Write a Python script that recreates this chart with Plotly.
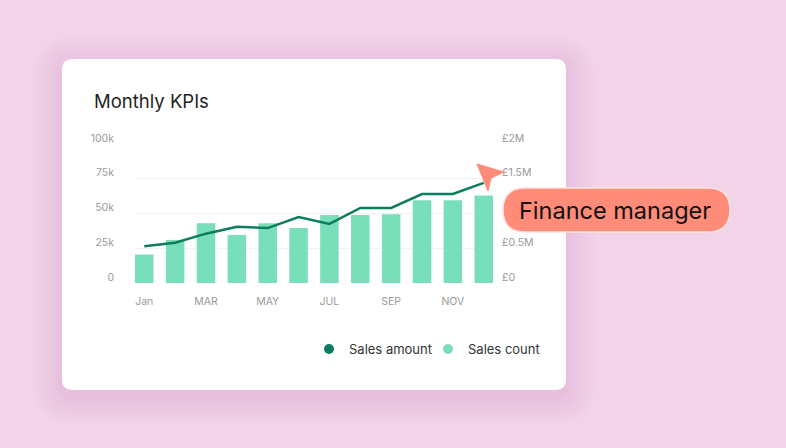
import plotly.graph_objects as go

W, H = 786, 448

# data
months = ["Jan", "Feb", "Mar", "Apr", "May", "Jun",
          "Jul", "Aug", "Sep", "Oct", "Nov", "Dec"]
sales_count = [20500, 31000, 43000, 34500, 43000, 39500,
               49000, 49000, 49500, 59500, 59500, 63000]
sales_amount = [530000, 580000, 710000, 810000, 790000, 950000,
                850000, 1080000, 1080000, 1280000, 1280000, 1440000]

x_tickvals = ["Jan", "Mar", "May", "Jul", "Sep", "Nov"]
x_ticktext = ["Jan", "MAR", "MAY", "JUL", "SEP", "NOV"]
count_ticks = [0, 25000, 50000, 75000, 100000]
count_labels = ["0", "25k", "50k", "75k", "100k"]
# the £1M label sits under the "Finance manager" pill in the original
amount_ticks = [0, 500000, 1500000, 2000000]
amount_labels = ["£0", "£0.5M", "£1.5M", "£2M"]

DARK = "#0d7d5f"
LIGHT = "#79dfba"
SALMON = "#ff8b79"
FONT = "Inter"


# page pixels -> paper (margins are zero, so paper == page)
def px(x):
    return x / W


def py(y):
    return 1 - y / H


def rounded_rect(x0, y0, x1, y1, r):
    pts = [
        f"M {px(x0 + r)} {py(y0)}",
        f"L {px(x1 - r)} {py(y0)}",
        f"Q {px(x1)} {py(y0)} {px(x1)} {py(y0 + r)}",
        f"L {px(x1)} {py(y1 - r)}",
        f"Q {px(x1)} {py(y1)} {px(x1 - r)} {py(y1)}",
        f"L {px(x0 + r)} {py(y1)}",
        f"Q {px(x0)} {py(y1)} {px(x0)} {py(y1 - r)}",
        f"L {px(x0)} {py(y0 + r)}",
        f"Q {px(x0)} {py(y0)} {px(x0 + r)} {py(y0)}",
        "Z",
    ]
    return " ".join(pts)


fig = go.Figure()

fig.add_trace(go.Bar(
    x=months, y=sales_count, marker_color=LIGHT, marker_line_width=0,
    name="Sales count", showlegend=False, yaxis="y",
))
fig.add_trace(go.Scatter(
    x=months, y=sales_amount, mode="lines", line=dict(color=DARK, width=2.5),
    name="Sales amount", showlegend=False, yaxis="y2",
))
# legend entries with round markers
fig.add_trace(go.Scatter(
    x=[None], y=[None], mode="markers", name="Sales amount",
    marker=dict(color=DARK, size=10, symbol="circle"),
))
fig.add_trace(go.Scatter(
    x=[None], y=[None], mode="markers", name="Sales count",
    marker=dict(color=LIGHT, size=10, symbol="circle"),
))

shapes = []
# card shadow, soft and wide
for i in range(10):
    g = 3 + i * 3
    shapes.append(dict(
        type="path", layer="below", xref="paper", yref="paper",
        path=rounded_rect(62 - g, 59 - g + 6, 566 + g, 390 + g + 6, 12 + g),
        fillcolor="rgba(170,70,130,0.011)", line_width=0,
    ))
# card
shapes.append(dict(
    type="path", layer="below", xref="paper", yref="paper",
    path=rounded_rect(62, 59, 566, 390, 11),
    fillcolor="white", line_width=0,
))
# pill
shapes.append(dict(
    type="path", layer="above", xref="paper", yref="paper",
    path=rounded_rect(503, 188, 730, 232, 22),
    fillcolor=SALMON, line=dict(color="#ffe3dd", width=1.5),
))
# cursor
cursor = [(477, 164), (504, 172), (491, 178), (488, 191)]
path = "M " + " L ".join(f"{px(a)} {py(b)}" for a, b in cursor) + " Z"
shapes.append(dict(
    type="path", layer="above", xref="paper", yref="paper",
    path=path, fillcolor=SALMON, line=dict(color=SALMON, width=1),
))

annotations = [
    dict(text="Monthly KPIs", x=px(92), y=py(101), xref="paper", yref="paper",
         xanchor="left", yanchor="middle", showarrow=False,
         font=dict(family=FONT, size=18.5, color="#1f1f1f")),
    dict(text="Finance manager", x=px(615), y=py(210), xref="paper", yref="paper",
         xanchor="center", yanchor="middle", showarrow=False,
         font=dict(family=FONT, size=23.5, color="#111111")),
]

axis_font = dict(family=FONT, size=10.5, color="#9a9a9a")

fig.update_layout(
    width=W, height=H,
    margin=dict(l=0, r=0, t=0, b=0),
    paper_bgcolor="#f2d4e8",
    plot_bgcolor="rgba(0,0,0,0)",
    bargap=0.4,
    shapes=shapes,
    annotations=annotations,
    font=dict(family=FONT),
    xaxis=dict(
        domain=[px(135), px(493)], range=[-0.3, 11.3],
        tickmode="array", tickvals=x_tickvals, ticktext=x_ticktext,
        showgrid=False, zeroline=False, showline=False, ticks="",
        tickfont=axis_font, ticklabelstandoff=10, automargin=False,
    ),
    yaxis=dict(
        domain=[py(283), py(144)], range=[0, 100000],
        tickmode="array", tickvals=count_ticks, ticktext=count_labels,
        showgrid=True, gridcolor="#f1f1f1", gridwidth=1,
        zeroline=False, showline=False, ticks="",
        tickfont=axis_font, ticklabelstandoff=20, ticklabelshift=-6,
        automargin=False,
    ),
    yaxis2=dict(
        overlaying="y", side="right", range=[0, 2000000],
        tickmode="array", tickvals=amount_ticks, ticktext=amount_labels,
        showgrid=False, zeroline=False, showline=False, ticks="",
        tickfont=axis_font, ticklabelstandoff=8, ticklabelshift=-6,
        automargin=False,
    ),
    legend=dict(
        orientation="h", x=px(309), y=py(349), xanchor="left", yanchor="middle",
        font=dict(family=FONT, size=13, color="#333333"),
        bgcolor="rgba(0,0,0,0)", itemclick=False,
        entrywidth=74, entrywidthmode="pixels",
    ),
)

# page body has an 8px default margin; drop it so the figure fills the window
fig.write_html("out.html", config={"displayModeBar": False},
               post_script="document.body.style.margin = '0';")
